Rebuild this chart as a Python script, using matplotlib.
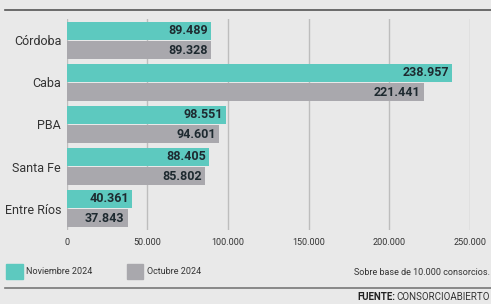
import matplotlib.pyplot as plt
import numpy as np

provincias = ["Córdoba", "Caba", "PBA", "Santa Fe", "Entre Ríos"]
noviembre = [89489, 238957, 98551, 88405, 40361]
octubre = [89328, 221441, 94601, 85802, 37843]
xticks = [0, 50000, 100000, 150000, 200000, 250000]

def fmt(v):
    return "{:,}".format(v).replace(",", ".")

teal = "#5dc9bf"
gris = "#a9a8ad"
fondo = "#e9e9e9"
fam = ["Roboto", "DejaVu Sans"]

fig = plt.figure(figsize=(4.91, 3.04), dpi=100, facecolor=fondo)
ax = fig.add_axes([0.136, 0.245, 0.821, 0.691], facecolor=fondo)

y = np.arange(len(provincias))
h = 0.44
ax.barh(y - 0.23, noviembre, height=h, color=teal, zorder=3)
ax.barh(y + 0.23, octubre, height=h, color=gris, zorder=3)

for i in range(len(provincias)):
    ax.text(noviembre[i] - 2000, y[i] - 0.23, fmt(noviembre[i]), ha="right", va="center",
            fontsize=9, fontweight="bold", color="#1e2a30", family=fam, zorder=4)
    ax.text(octubre[i] - 2000, y[i] + 0.23, fmt(octubre[i]), ha="right", va="center",
            fontsize=9, fontweight="bold", color="#1e2a30", family=fam, zorder=4)

ax.set_xlim(0, 250000)
ax.set_ylim(4.5, -0.5)
ax.set_xticks(xticks)
ax.set_xticklabels([fmt(t) for t in xticks], family=fam, fontsize=6.5, color="#333333")
ax.set_yticks(y)
ax.set_yticklabels(provincias, family=fam, fontsize=9, color="#333333")
ax.tick_params(length=0, pad=4)
ax.tick_params(axis="x", pad=6)
for s in ax.spines.values():
    s.set_visible(False)
ax.grid(axis="x", color="#bdbdbd", linewidth=1, zorder=0)

# lineas
fig.add_artist(plt.Line2D([0.01, 1.0], [0.967, 0.967], color="#555555", linewidth=1.2))
fig.add_artist(plt.Line2D([0.01, 1.0], [0.053, 0.053], color="#777777", linewidth=1.2))

# leyenda
fig.add_artist(plt.Rectangle((0.012, 0.083), 0.034, 0.05, color=teal))
fig.text(0.052, 0.108, "Noviembre 2024", fontsize=6.5, family=fam, va="center", color="#333333")
fig.add_artist(plt.Rectangle((0.258, 0.083), 0.034, 0.05, color=gris))
fig.text(0.300, 0.108, "Octubre 2024", fontsize=6.5, family=fam, va="center", color="#333333")
fig.text(0.998, 0.102, "Sobre base de 10.000 consorcios.", fontsize=6.5, family=fam,
         va="center", ha="right", color="#333333")

fuente = fig.text(0.998, 0.022, "CONSORCIOABIERTO", fontsize=7, family=fam,
                  va="center", ha="right", color="#333333")
fig.canvas.draw()
bb = fuente.get_window_extent()
x0 = bb.x0 / fig.bbox.width
fig.text(x0 - 0.003, 0.022, "FUENTE:", fontsize=7, family=fam, fontweight="bold",
         va="center", ha="right", color="#222222")

fig.savefig("out.png", dpi=100, facecolor=fondo)
